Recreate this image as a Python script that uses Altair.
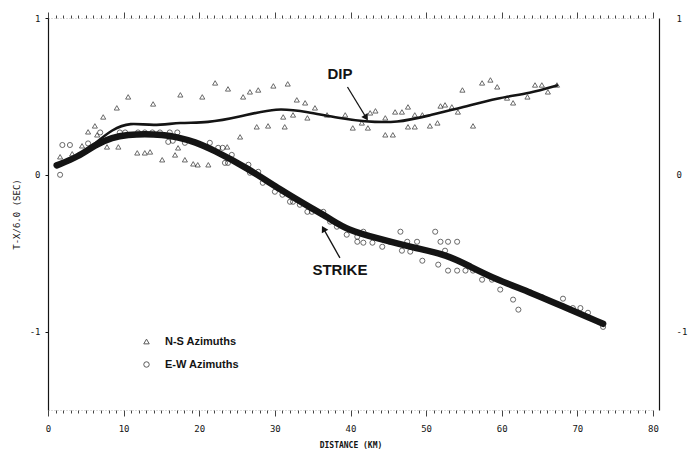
import altair as alt
import pandas as pd

# ---- data ----
ns_x = [1.6, 3.2, 4.5, 5.3, 6.2, 6.5, 7.3, 7.8, 9.1, 9.3, 10.6, 11.8, 12.8, 13.5, 13.9, 15.1, 16.8, 17.2,
        17.5, 18.1, 19.2, 19.8, 20.4, 21.2, 22.1, 23.7, 23.8, 25.4, 25.8, 26.7, 27.6, 27.8, 29.1, 29.8,
        31.1, 31.3, 31.7, 32.4, 32.9, 34.0, 34.3, 35.3, 36.9, 39.3, 40.3, 41.5, 42.3, 42.6, 43.3, 44.6,
        44.6, 45.6, 45.9, 46.8, 47.6, 47.6, 48.5, 48.5, 49.5, 50.5, 51.5, 51.9, 52.5, 53.4, 54.2, 54.8,
        56.2, 57.4, 58.5, 59.4, 60.7, 61.5, 63.4, 64.4, 65.3, 66.1, 67.3]
ns_y = [0.115, 0.134, 0.185, 0.274, 0.312, 0.255, 0.369, 0.178, 0.427, 0.178, 0.497, 0.14, 0.14, 0.146,
        0.452, 0.096, 0.127, 0.172, 0.51, 0.096, 0.07, 0.064, 0.497, 0.064, 0.586, 0.178, 0.548, 0.242,
        0.497, 0.529, 0.306, 0.541, 0.312, 0.567, 0.369, 0.306, 0.58, 0.382, 0.478, 0.459, 0.363, 0.427,
        0.382, 0.382, 0.299, 0.331, 0.299, 0.395, 0.408, 0.363, 0.255, 0.255, 0.401, 0.401, 0.433, 0.306,
        0.382, 0.306, 0.382, 0.312, 0.331, 0.439, 0.446, 0.433, 0.401, 0.541, 0.312, 0.586, 0.605, 0.561,
        0.49, 0.459, 0.497, 0.573, 0.573, 0.529, 0.573]

ew_x = [1.6, 1.9, 2.9, 5.3, 6.9, 9.5, 10.2, 11.9, 12.8, 13.8, 14.8, 16.1, 17.1, 15.9, 16.5, 18.1, 21.4,
        22.5, 23.1, 24.3, 23.4, 23.8, 26.5, 26.7, 27.8, 28.4, 30.0, 31.0, 32.0, 32.4, 33.3, 34.3, 34.9,
        36.4, 37.3, 38.2, 39.5, 40.9, 41.7, 40.9, 41.7, 42.9, 44.2, 45.2, 46.6, 46.8, 47.9, 47.5, 48.8,
        49.5, 51.2, 51.9, 52.9, 54.1, 52.5, 51.6, 52.9, 54.1, 55.2, 56.2, 57.4, 58.7, 59.8, 61.5, 62.2,
        63.8, 65.3, 68.1, 69.4, 70.4, 71.4, 73.4]
ew_y = [0.0, 0.19, 0.19, 0.2, 0.27, 0.27, 0.27, 0.27, 0.27, 0.27, 0.27, 0.27, 0.27, 0.21, 0.217, 0.204,
        0.204, 0.172, 0.172, 0.127, 0.076, 0.076, 0.064, 0.013, 0.019, -0.051, -0.108, -0.127, -0.172,
        -0.172, -0.191, -0.236, -0.236, -0.236, -0.299, -0.331, -0.382, -0.395, -0.363, -0.427, -0.433,
        -0.433, -0.459, -0.427, -0.363, -0.484, -0.49, -0.427, -0.427, -0.548, -0.363, -0.427, -0.427,
        -0.427, -0.484, -0.573, -0.611, -0.611, -0.611, -0.611, -0.669, -0.669, -0.732, -0.796, -0.86,
        -0.75, -0.78, -0.79, -0.85, -0.85, -0.88, -0.97]

dip_x = [1.15, 4.0, 6.2, 8.5, 10.8, 13.9, 17.5, 21.0, 25.4, 30.3, 34.3, 38.6, 41.7, 46.2, 50.5, 54.9,
         59.4, 63.8, 67.3]
dip_y = [0.06, 0.115, 0.20, 0.29, 0.335, 0.31, 0.335, 0.33, 0.37, 0.43, 0.40, 0.36, 0.34, 0.33, 0.38,
         0.43, 0.49, 0.52, 0.57]

strike_x = [1.15, 4.0, 6.2, 8.5, 10.6, 12.8, 15.1, 17.2, 19.4, 21.8, 26.3, 30.7, 35.1, 37.3, 39.5, 43.9,
            48.3, 52.8, 55.8, 59.4, 63.8, 68.1, 73.4]
strike_y = [0.06, 0.115, 0.19, 0.24, 0.255, 0.26, 0.255, 0.24, 0.21, 0.16, 0.045, -0.095, -0.22, -0.28,
            -0.35, -0.41, -0.465, -0.51, -0.585, -0.67, -0.75, -0.84, -0.95]

series_names = ["N-S Azimuths", "E-W Azimuths"]
x_ticks = list(range(0, 81))
y_ticks = [-1, 0, 1]

# ---- tables ----
pts = pd.concat([
    pd.DataFrame({"x": ns_x, "y": ns_y, "set": series_names[0]}),
    pd.DataFrame({"x": ew_x, "y": ew_y, "set": series_names[1]}),
])
dip = pd.DataFrame({"x": dip_x, "y": dip_y})
strike = pd.DataFrame({"x": strike_x, "y": strike_y})
one = pd.DataFrame({"a": [0]})

INK = "#141414"
MONO = "DejaVu Sans Mono"
SANS = "Liberation Sans"

xs = alt.Scale(domain=[0, 80], nice=False, zero=False)
ys = alt.Scale(domain=[-1.5, 1], nice=False, zero=False)

tick_cond = {"condition": {"test": "datum.value % 10 === 0", "value": 6}, "value": 3}

x_bottom = alt.Axis(orient="bottom", values=x_ticks, tickSize=tick_cond, tickColor=INK, tickWidth=0.8,
                    labelExpr="datum.value % 10 === 0 ? datum.label : ''", labelFont=MONO,
                    labelFontSize=9, labelColor=INK, labelPadding=8, labelFlush=False,
                    domain=True, domainColor="#888", domainWidth=0.6, domainDash=[1, 2],
                    grid=False, title="DISTANCE (KM)", titleFont=MONO, titleFontSize=8,
                    titleFontWeight="bold", titleColor=INK, titlePadding=8)
x_top = alt.Axis(orient="top", values=x_ticks, tickSize=tick_cond, tickColor=INK, tickWidth=0.8,
                 labels=False, domain=True, domainColor="#888", domainWidth=0.6, domainDash=[1, 2],
                 grid=False, title=None)
y_left = alt.Axis(orient="left", values=y_ticks, labelExpr="'' + datum.value", tickSize=3,
                  tickColor=INK, labelPadding=5, labelFont=MONO, labelFontSize=9, labelColor=INK,
                  domainColor=INK, domainWidth=1.2, grid=False, title="T-X/6.0  (SEC)",
                  titleFont=MONO, titleFontSize=9, titleFontWeight="normal", titleColor=INK,
                  titlePadding=8)
y_right = alt.Axis(orient="right", values=y_ticks, labelExpr="'' + datum.value", ticks=False,
                   labelPadding=17, offset=6, labelFont=MONO, labelFontSize=9, labelColor=INK,
                   domainColor=INK, domainWidth=1.2, grid=False, title=None)

points = alt.Chart(pts).mark_point(filled=False, size=26, strokeWidth=0.9, color=INK).encode(
    x=alt.X("x:Q", scale=xs, axis=x_bottom),
    y=alt.Y("y:Q", scale=ys, axis=y_left),
    shape=alt.Shape("set:N", sort=series_names,
                    scale=alt.Scale(domain=series_names, range=["triangle-up", "circle"]),
                    legend=alt.Legend(title=None, orient="none", legendX=93, legendY=318,
                                      labelFont=SANS, labelFontSize=11, labelFontWeight="bold",
                                      labelColor=INK, labelOffset=13, rowPadding=11,
                                      symbolSize=30, symbolStrokeColor=INK, symbolStrokeWidth=1,
                                      padding=0)),
)

dip_line = alt.Chart(dip).mark_line(color=INK, strokeWidth=2.6, interpolate="basis",
                                    strokeCap="round").encode(
    x=alt.X("x:Q", scale=xs, axis=x_top),
    y=alt.Y("y:Q", scale=ys, axis=y_right),
)
strike_line = alt.Chart(strike).mark_line(color=INK, strokeWidth=6.5, interpolate="basis",
                                          strokeCap="round").encode(
    x=alt.X("x:Q", scale=xs, axis=None),
    y=alt.Y("y:Q", scale=ys, axis=None),
)

def label(txt, x, y):
    return alt.Chart(one).mark_text(text=txt, font=SANS, fontSize=15, fontWeight="bold",
                                    color=INK).encode(
        x=alt.X(datum=x, scale=xs, axis=None), y=alt.Y(datum=y, scale=ys, axis=None))

def arrow(x1, y1, x2, y2, ang):
    shaft = alt.Chart(one).mark_rule(color=INK, strokeWidth=1.3).encode(
        x=alt.X(datum=x1, scale=xs, axis=None), y=alt.Y(datum=y1, scale=ys, axis=None),
        x2=alt.X2(datum=x2), y2=alt.Y2(datum=y2))
    head = alt.Chart(one).mark_point(shape="triangle", filled=True, size=55, angle=ang,
                                     color=INK, opacity=1).encode(
        x=alt.X(datum=x2, scale=xs, axis=None), y=alt.Y(datum=y2, scale=ys, axis=None))
    return shaft + head

chart = alt.layer(
    points, dip_line, strike_line,
    label("DIP", 38.6, 0.64), arrow(39.6, 0.56, 42.0, 0.37, 148),
    label("STRIKE", 38.6, -0.61), arrow(38.6, -0.53, 36.5, -0.35, 331),
).resolve_axis(x="independent", y="independent").properties(
    width=605, height=392,
    autosize=alt.AutoSizeParams(type="none"),
    padding={"left": 48, "top": 18, "right": 37, "bottom": 40},
    background="white",
).configure_view(stroke=None)

chart.save("out.html", embed_options={"renderer": "svg", "actions": False})
